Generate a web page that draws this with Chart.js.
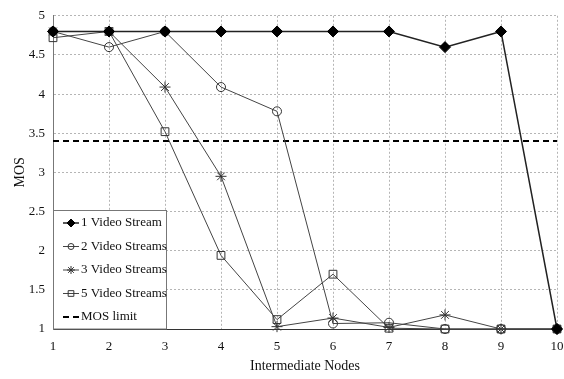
<!DOCTYPE html>
<html>
<head>
<meta charset="utf-8">
<script src="https://cdn.jsdelivr.net/npm/chart.js@4/dist/chart.umd.min.js"></script>
<style>
  html, body { margin: 0; padding: 0; background: #fff; }
  #wrap { width: 564px; height: 379px; }
</style>
</head>
<body>
<div id="wrap"><canvas id="chart" width="564" height="379"></canvas></div>
<script>
const nodes = [1, 2, 3, 4, 5, 6, 7, 8, 9, 10];
const oneStream = [4.8, 4.8, 4.8, 4.8, 4.8, 4.8, 4.8, 4.6, 4.8, 1.0];
const twoStreams = [4.8, 4.6, 4.8, 4.09, 3.78, 1.07, 1.08, 1.0, 1.0, 1.0];
const threeStreams = [4.8, 4.8, 4.09, 2.95, 1.03, 1.14, 1.02, 1.18, 1.0, 1.0];
const fiveStreams = [4.72, 4.8, 3.52, 1.94, 1.12, 1.7, 1.01, 1.0, 1.0, 1.0];
const mosLimit = nodes.map(() => 3.4);

const serif = "'Liberation Serif', 'DejaVu Serif', serif";

// legend drawn inside the plot, bottom-left, like the original figure
const boxLegend = {
    id: "boxLegend",
    afterDatasetsDraw(chart) {
        const { ctx, chartArea } = chart;
        const left = chartArea.left, bottom = chartArea.bottom;
        const w = 113, h = 119;
        const top = bottom - h;
        ctx.save();
        ctx.fillStyle = "#fff";
        ctx.fillRect(left, top, w, h);
        ctx.strokeStyle = "#777";
        ctx.lineWidth = 1;
        ctx.strokeRect(left + 0.5, top + 0.5, w, h - 0.5);

        chart.data.datasets.forEach((ds, i) => {
            const y = top + 13 + i * 23.5;
            const x0 = left + 10, x1 = left + 26;
            ctx.strokeStyle = ds.borderColor;
            ctx.lineWidth = ds.borderWidth;
            ctx.setLineDash(ds.borderDash || []);
            ctx.beginPath();
            ctx.moveTo(x0, y);
            ctx.lineTo(x1, y);
            ctx.stroke();
            ctx.setLineDash([]);
            if (ds.pointRadius > 0) {
                ctx.fillStyle = ds.pointBackgroundColor;
                ctx.strokeStyle = ds.pointBorderColor;
                ctx.lineWidth = 1;
                Chart.helpers.drawPoint(ctx, {
                    pointStyle: ds.pointStyle,
                    radius: ds.pointRadius - 1.5,
                    borderWidth: 1
                }, (x0 + x1) / 2, y);
            }
            ctx.fillStyle = "#111";
            ctx.font = "13px " + serif;
            ctx.textBaseline = "middle";
            ctx.fillText(ds.label, x1 + 2, y);
        });
        ctx.restore();
    }
};

function series(label, data, style, fill, radius) {
    return {
        label: label,
        data: data,
        borderColor: "#444",
        borderWidth: 1,
        pointStyle: style,
        pointRadius: radius,
        pointHoverRadius: radius,
        pointBackgroundColor: fill,
        pointBorderColor: "#333",
        pointBorderWidth: 1,
        tension: 0,
        clip: false
    };
}

const datasets = [
    series("1 Video Stream", oneStream, "rectRot", "#000", 5.5),
    series("2 Video Streams", twoStreams, "circle", "rgba(255,255,255,0)", 4.5),
    series("3 Video Streams", threeStreams, "star", "rgba(255,255,255,0)", 5.5),
    series("5 Video Streams", fiveStreams, "rect", "rgba(255,255,255,0)", 5.5),
    {
        label: "MOS limit",
        data: mosLimit,
        borderColor: "#000",
        borderWidth: 2,
        borderDash: [6, 4],
        pointRadius: 0,
        pointHoverRadius: 0
    }
];
datasets[0].borderWidth = 1.5;
datasets[0].borderColor = "#222";
datasets[0].pointBorderColor = "#000";

const ctx = document.getElementById("chart");
new Chart(ctx, {
    type: "line",
    data: { labels: nodes, datasets: datasets },
    options: {
        responsive: false,
        animation: false,
        layout: { padding: { left: 8, right: 0, top: 4, bottom: 0 } },
        plugins: {
            legend: { display: false },
            tooltip: { enabled: false }
        },
        scales: {
            x: {
                offset: false,
                grid: { color: "#b5b5b5", drawTicks: false },
                border: { display: true, color: "#333", dash: [2, 2] },
                ticks: { color: "#111", font: { family: serif, size: 13 }, padding: 10, maxRotation: 0 },
                title: { display: true, text: "Intermediate Nodes", color: "#111", font: { family: serif, size: 14 }, padding: { top: 2 } },
                afterFit(scale) {
                    scale.height = 50;
                    scale.paddingRight = 7;
                }
            },
            y: {
                min: 1,
                max: 5,
                ticks: {
                    stepSize: 0.5,
                    color: "#111",
                    font: { family: serif, size: 13 },
                    padding: 8,
                    callback: v => String(v)
                },
                grid: { color: "#b5b5b5", drawTicks: false },
                border: { display: true, color: "#777", dash: [2, 2] },
                title: { display: true, text: "MOS", color: "#111", font: { family: serif, size: 14 }, padding: { bottom: 2 } },
                afterFit(scale) { scale.width = 45; }
            }
        }
    },
    plugins: [boxLegend]
});
</script>
</body>
</html>
